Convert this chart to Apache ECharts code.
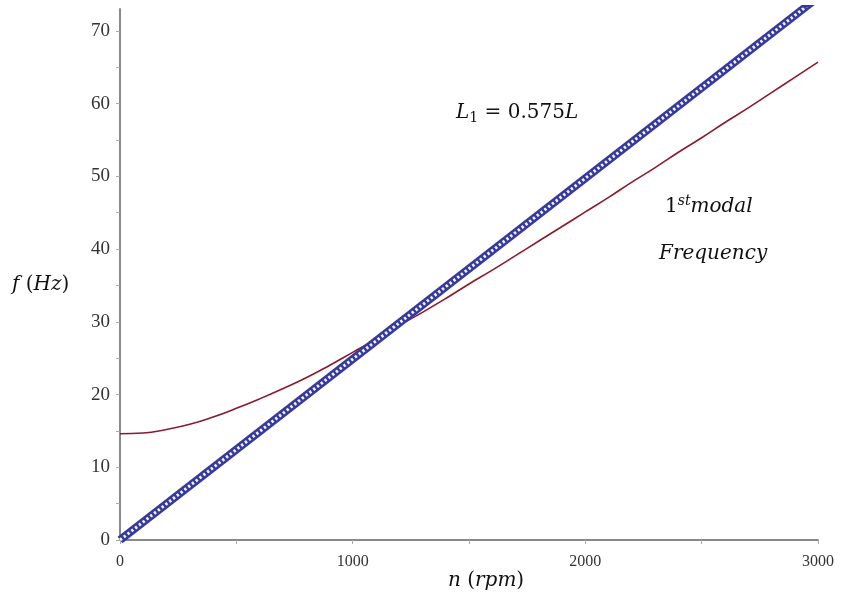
<!DOCTYPE html>
<html>
<head>
<meta charset="utf-8">
<script src="https://cdn.jsdelivr.net/npm/echarts@6/dist/echarts.min.js"></script>
<style>
  html, body { margin: 0; padding: 0; background: #fff; }
  #main { width: 841px; height: 594px; }
</style>
</head>
<body>
<div id="main"></div>
<script>
// speed n (rpm)
var speed = [0, 100, 200, 300, 400, 500, 600, 700, 800, 900, 1000,
  1100, 1200, 1300, 1400, 1500, 1600, 1700, 1800, 1900, 2000,
  2100, 2200, 2300, 2400, 2500, 2600, 2700, 2800, 2900, 3000];
// 1st modal frequency (Hz)
var modalFreq = [14.6, 14.7, 15.2, 15.9, 16.9, 18.1, 19.4, 20.8, 22.3, 24.0, 25.8,
  27.6, 29.5, 31.3, 33.2, 35.2, 37.1, 39.1, 41.1, 43.1, 45.1,
  47.1, 49.2, 51.2, 53.3, 55.3, 57.4, 59.4, 61.5, 63.6, 65.7];
// excitation line (rotation frequency), points read at the ends
var excSpeed = [0, 3000];
var excFreq = [0, 74.6];

var xTickLabels = [0, 1000, 2000, 3000];
var yTickLabels = [0, 10, 20, 30, 40, 50, 60, 70];

var chart = echarts.init(document.getElementById('main'));

function pairs(xs, ys) {
  var out = [];
  for (var i = 0; i < xs.length; i++) out.push([xs[i], ys[i]]);
  return out;
}

var mathFont = 'DejaVu Serif';

var option = {
  backgroundColor: '#fff',
  animation: false,
  grid: { left: 120, right: 23, top: 9, bottom: 54 },
  xAxis: {
    type: 'value',
    min: 0,
    max: 3000,
    interval: 500,
    axisLine: { show: true, lineStyle: { color: '#888', width: 2 } },
    axisTick: { show: true, length: 4, lineStyle: { color: '#aaa' } },
    axisLabel: {
      margin: 14,
      fontFamily: 'Liberation Serif', fontSize: 16, color: '#333',
      formatter: function (v) { return xTickLabels.indexOf(v) >= 0 ? String(v) : ''; }
    },
    splitLine: { show: false }
  },
  yAxis: {
    type: 'value',
    min: 0,
    max: 73,
    interval: 5,
    axisLine: { show: true, lineStyle: { color: '#888', width: 2 } },
    axisTick: { show: true, length: 4, lineStyle: { color: '#aaa' } },
    axisLabel: {
      margin: 10,
      showMaxLabel: false,
      fontFamily: 'Liberation Serif', fontSize: 19, color: '#333',
      formatter: function (v) { return yTickLabels.indexOf(v) >= 0 ? String(v) : ''; }
    },
    splitLine: { show: false }
  },
  series: [
    {
      name: 'modal',
      type: 'line',
      data: pairs(speed, modalFreq),
      smooth: true,
      showSymbol: false,
      lineStyle: { color: '#8b1a2e', width: 1.6 },
      z: 2
    },
    {
      name: 'exc',
      type: 'line',
      data: pairs(excSpeed, excFreq),
      showSymbol: false,
      lineStyle: { color: '#363a9c', width: 8 },
      z: 3
    },
    {
      name: 'excDots',
      type: 'line',
      data: pairs(excSpeed, excFreq),
      showSymbol: false,
      lineStyle: { color: '#f2f4ff', width: 3, type: [2.4, 2.4] },
      z: 4
    }
  ],
  graphic: [
    {
      type: 'text', left: 456, top: 103,
      style: {
        text: '{i|L}{s|1}{n| = 0.575}{i|L}',
        rich: {
          i: { fontFamily: mathFont, fontStyle: 'italic', fontSize: 20, fill: '#111' },
          n: { fontFamily: mathFont, fontSize: 20, fill: '#111' },
          s: { fontFamily: mathFont, fontSize: 14, fill: '#111', padding: [10, 0, 0, 0] }
        }
      }
    },
    {
      type: 'text', left: 665, top: 194,
      style: {
        text: '{n|1}{s|st}{i|modal}',
        rich: {
          i: { fontFamily: mathFont, fontStyle: 'italic', fontSize: 20, fill: '#111' },
          n: { fontFamily: mathFont, fontSize: 20, fill: '#111' },
          s: { fontFamily: mathFont, fontStyle: 'italic', fontSize: 14, fill: '#111', padding: [0, 0, 12, 0] }
        }
      }
    },
    {
      type: 'text', left: 659, top: 244,
      style: { text: 'Frequency', fontFamily: mathFont, fontStyle: 'italic', fontSize: 20, fill: '#111' }
    },
    {
      type: 'text', left: 12, top: 275,
      style: { text: '{i|f} ({i|Hz})', rich: {
        i: { fontFamily: mathFont, fontStyle: 'italic', fontSize: 20, fill: '#111' }
      }, fontFamily: mathFont, fontSize: 20, fill: '#111' }
    },
    {
      type: 'text', left: 448, top: 571,
      style: { text: '{i|n} ({i|rpm})', rich: {
        i: { fontFamily: mathFont, fontStyle: 'italic', fontSize: 20, fill: '#111' }
      }, fontFamily: mathFont, fontSize: 20, fill: '#111' }
    }
  ]
};

chart.setOption(option);
</script>
</body>
</html>
